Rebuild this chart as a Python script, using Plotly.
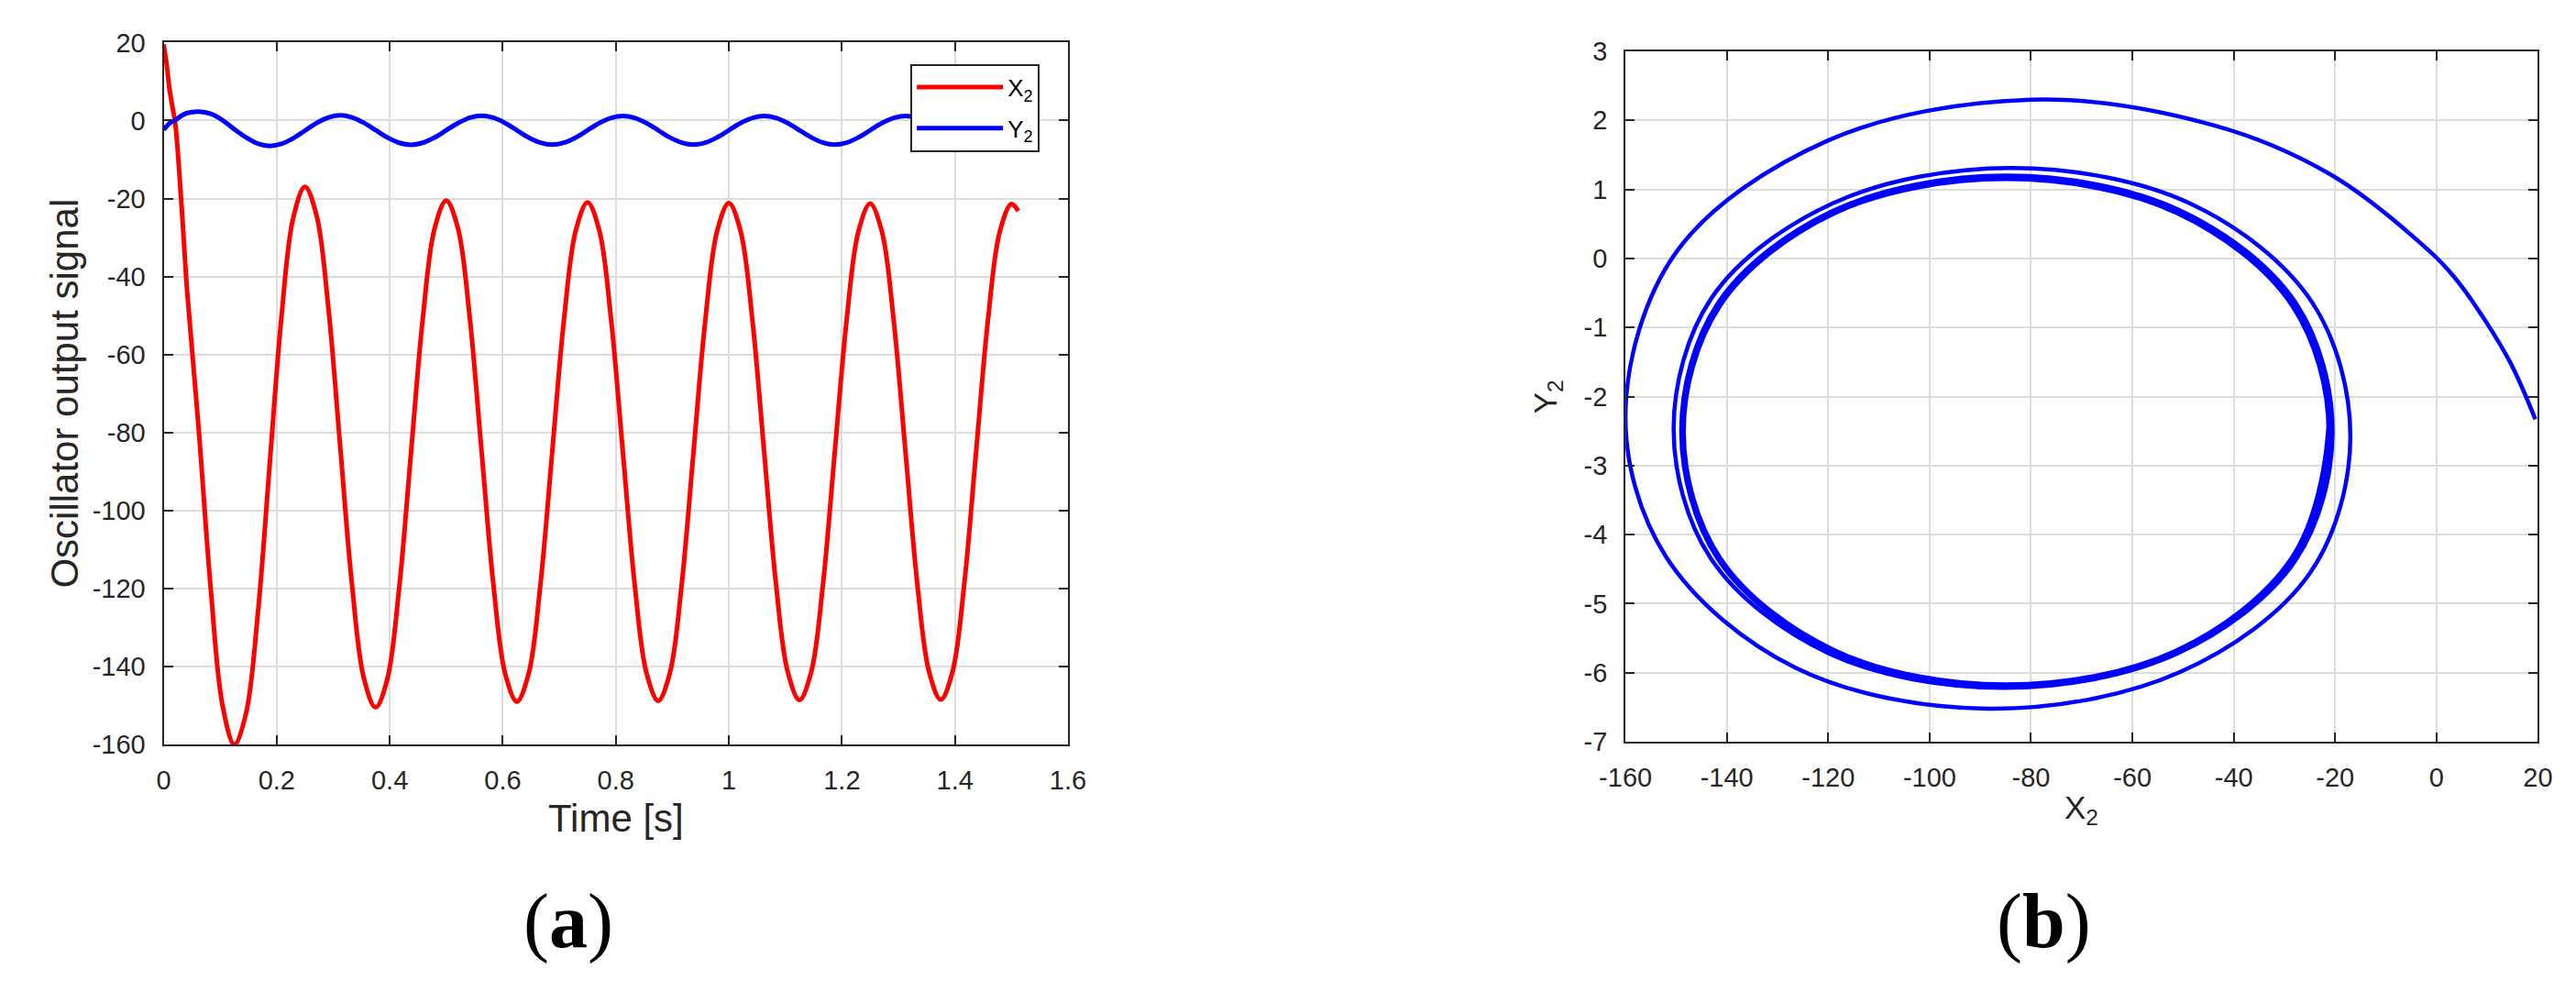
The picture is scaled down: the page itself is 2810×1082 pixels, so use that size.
import plotly.graph_objects as go

# sample times [s]; denser samples in the start-up transient, then 12 per 0.25 s cycle
time_s = [
    0.0, 0.0052, 0.0104, 0.0156, 0.0208, 0.0313, 0.0417, 0.0625, 0.0833, 0.1042,
    0.125, 0.1458, 0.1667, 0.1875, 0.2083, 0.2292,
    0.25, 0.2708, 0.2917, 0.3125, 0.3333, 0.3542, 0.375, 0.3958, 0.4167, 0.4375, 0.4583, 0.4792,
    0.5, 0.5208, 0.5417, 0.5625, 0.5833, 0.6042, 0.625, 0.6458, 0.6667, 0.6875, 0.7083, 0.7292,
    0.75, 0.7708, 0.7917, 0.8125, 0.8333, 0.8542, 0.875, 0.8958, 0.9167, 0.9375, 0.9583, 0.9792,
    1.0, 1.0208, 1.0417, 1.0625, 1.0833, 1.1042, 1.125, 1.1458, 1.1667, 1.1875, 1.2083, 1.2292,
    1.25, 1.2708, 1.2917, 1.3125, 1.3333, 1.3542, 1.375, 1.3958, 1.4167, 1.4375, 1.4583, 1.4792,
    1.5, 1.512,
]

# oscillator output X2
x2_signal = [
    19.5, 14.5, 8, 3.5, -1, -21, -44, -80, -120, -150,
    -160, -152.0, -126.4, -88.5, -50.6, -25.0,
    -17, -24.5, -48.4, -83.8, -119.1, -143.0, -150.5, -143.2, -119.9, -85.5, -51.1, -27.8,
    -20.5, -27.7, -50.7, -84.8, -118.8, -141.8, -149.0, -141.8, -118.9, -85.0, -51.1, -28.2,
    -21.0, -28.2, -51.1, -85.0, -118.8, -141.6, -148.8, -141.6, -118.8, -85.0, -51.3, -28.4,
    -21.2, -28.4, -51.2, -85.0, -118.7, -141.4, -148.6, -141.4, -118.7, -84.9, -51.3, -28.5,
    -21.3, -28.5, -51.3, -84.9, -118.6, -141.3, -148.5, -141.3, -118.6, -84.9, -51.4, -28.6,
    -21.4, -23.2,
]

# oscillator output Y2
y2_signal = [
    -2.33, -1.5, -0.72, -0.27, 0.08, 1.22, 1.93, 2.3, 1.71, 0.09,
    -2.25, -4.32, -5.93, -6.52, -5.99, -4.56,
    -2.6, -0.64, 0.79, 1.31, 0.80, -0.57, -2.46, -4.34, -5.72, -6.22, -5.72, -4.37,
    -2.51, -0.65, 0.70, 1.20, 0.70, -0.65, -2.50, -4.35, -5.70, -6.20, -5.70, -4.35,
    -2.51, -0.67, 0.68, 1.18, 0.68, -0.67, -2.50, -4.34, -5.69, -6.18, -5.69, -4.34,
    -2.50, -0.67, 0.67, 1.16, 0.67, -0.67, -2.51, -4.34, -5.68, -6.17, -5.68, -4.34,
    -2.51, -0.68, 0.66, 1.15, 0.66, -0.68, -2.51, -4.34, -5.68, -6.17, -5.68, -4.34,
    -2.51, -1.5,
]

# tick values (labels use a plain hyphen like the original)
time_ticks = [0, 0.2, 0.4, 0.6, 0.8, 1, 1.2, 1.4, 1.6]
signal_ticks = [20, 0, -20, -40, -60, -80, -100, -120, -140, -160]
x2_ticks = [-160, -140, -120, -100, -80, -60, -40, -20, 0, 20]
y2_ticks = [3, 2, 1, 0, -1, -2, -3, -4, -5, -6, -7]

DARK = "#262626"
FONT = "Liberation Sans"


def axis_style(vals, rng, standoff):
    return dict(
        range=rng, tickvals=vals, ticktext=[str(v) for v in vals],
        showline=True, linewidth=2, linecolor=DARK, mirror="ticks",
        ticks="inside", ticklen=10, tickwidth=2, tickcolor=DARK,
        showgrid=True, gridcolor="#DCDCDC", gridwidth=1.5, zeroline=False,
        tickfont=dict(family=FONT, size=29, color=DARK),
        ticklabelstandoff=standoff,
    )


fig = go.Figure()
fig.add_trace(go.Scatter(x=time_s, y=x2_signal, mode="lines", name="X<sub>2</sub>",
                         legendgroup="x2", line=dict(color="#FF0000", width=5, shape="spline")))
fig.add_trace(go.Scatter(x=time_s, y=y2_signal, mode="lines", name="Y<sub>2</sub>",
                         legendgroup="y2", line=dict(color="#0000FF", width=5, shape="spline")))
# phase portrait
fig.add_trace(go.Scatter(x=x2_signal, y=y2_signal, mode="lines", showlegend=False,
                         xaxis="x2", yaxis="y2",
                         line=dict(color="#0000FF", width=4.5, shape="spline")))

fig.update_layout(
    width=2810, height=1082,
    margin=dict(l=0, r=0, t=0, b=0),
    paper_bgcolor="white", plot_bgcolor="white",
    xaxis=dict(domain=[0.05125, 0.40854], anchor="y", **axis_style(time_ticks, [0, 1.6], 12)),
    yaxis=dict(domain=[0.2495, 0.9787], anchor="x", **axis_style(signal_ticks, [-160, 20], 12)),
    xaxis2=dict(domain=[0.6288, 0.9893], anchor="y2", **axis_style(x2_ticks, [-160, 20], 12)),
    yaxis2=dict(domain=[0.2523, 0.9695], anchor="x2", **axis_style(y2_ticks, [-7, 3], 12)),
    showlegend=True,
    legend=dict(x=0.3463, y=0.9566, xanchor="left", yanchor="top",
                bgcolor="white", bordercolor=DARK, borderwidth=2,
                font=dict(family=FONT, size=26, color="black"),
                itemwidth=94, tracegroupgap=8),
)

annots = [
    dict(text="Oscillator output signal", x=34 / 2810, y=0.6141, textangle=-90,
         font=dict(family=FONT, size=42, color=DARK)),
    dict(text="Time [s]", x=646 / 2810, y=0.1728,
         font=dict(family=FONT, size=42, color=DARK)),
    dict(text="X<sub>2</sub>", x=2273 / 2810, y=0.1821,
         font=dict(family=FONT, size=35, color=DARK)),
    dict(text="Y<sub>2</sub>", x=1680 / 2810, y=0.6109, textangle=-90,
         font=dict(family=FONT, size=35, color=DARK)),
    dict(text="(<b>a</b>)", x=593 / 2810, y=0.0656,
         font=dict(family="Liberation Serif", size=84, color="black")),
    dict(text="(<b>b</b>)", x=2231 / 2810, y=0.0656,
         font=dict(family="Liberation Serif", size=84, color="black")),
]
for a in annots:
    fig.add_annotation(xref="paper", yref="paper", xanchor="center", yanchor="middle",
                       showarrow=False, **a)

fig.write_html("out.html")
